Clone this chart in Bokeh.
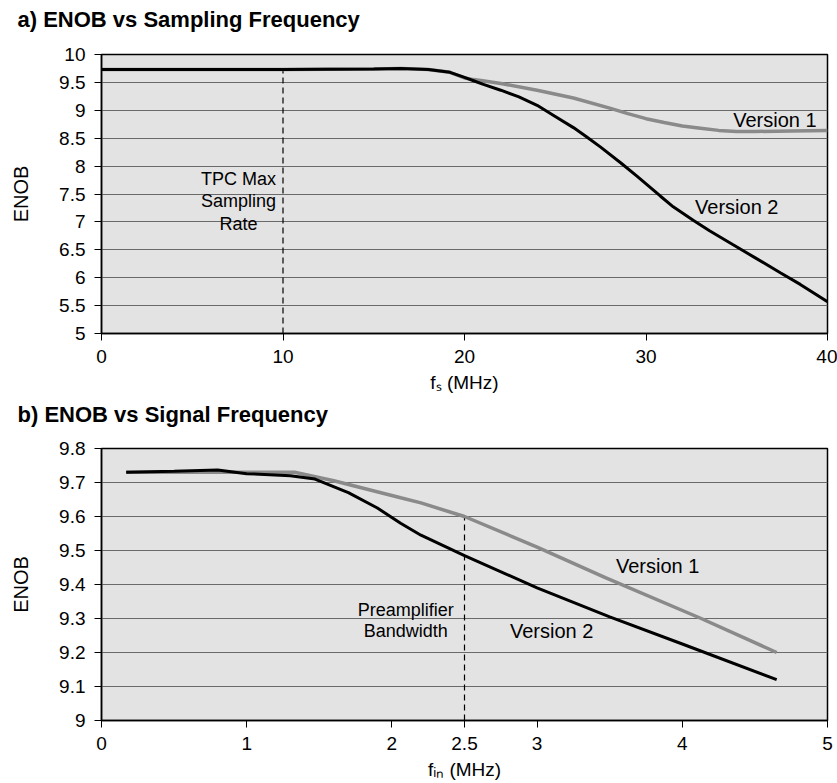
from bokeh.plotting import figure
from bokeh.layouts import column
from bokeh.models import Range1d, FixedTicker, NumeralTickFormatter, Label, Title
from bokeh.embed import file_html
from bokeh.resources import INLINE
import numpy as np

# ---------------- data: a) ENOB vs sampling frequency ----------------
fs_v1 = [0, 5, 10, 15, 16.5, 18, 19.2, 20, 20.5, 21, 22, 24, 26, 28, 29, 30, 31, 32, 33, 34, 35, 36, 38, 40]
enob_fs_v1 = [9.73, 9.73, 9.73, 9.74, 9.75, 9.73, 9.68, 9.58, 9.55, 9.53, 9.48, 9.36, 9.22, 9.04,
              8.94, 8.85, 8.78, 8.72, 8.68, 8.64, 8.62, 8.62, 8.63, 8.64]
fs_v2 = [0, 5, 10, 15, 16.5, 18, 19.2, 20, 20.5, 21, 22, 23, 24, 25, 26, 26.7, 27.5, 28.6, 29.5,
         30.8, 31.5, 32.6, 33.5, 34.8, 36, 37.4, 38.5, 40]
enob_fs_v2 = [9.73, 9.73, 9.73, 9.74, 9.75, 9.73, 9.68, 9.59, 9.53, 9.47, 9.36, 9.24, 9.09, 8.89, 8.69,
              8.53, 8.34, 8.06, 7.82, 7.46, 7.27, 7.03, 6.84, 6.59, 6.36, 6.09, 5.88, 5.57]
fs_ticks = [0, 10, 20, 30, 40]
enob_a_ticks = [5, 5.5, 6, 6.5, 7, 7.5, 8, 8.5, 9, 9.5, 10]
tpc_max_rate = 10

# ---------------- data: b) ENOB vs signal frequency ----------------
fin_v1 = [0.17, 0.5, 1.0, 1.33, 1.6, 1.83, 2.06, 2.2, 2.5, 3.0, 3.47, 4.13, 4.65]
enob_fin_v1 = [9.73, 9.73, 9.73, 9.73, 9.705, 9.68, 9.655, 9.64, 9.60, 9.51, 9.42, 9.30, 9.20]
fin_v2 = [0.17, 0.5, 0.8, 1.0, 1.3, 1.47, 1.7, 1.9, 2.06, 2.2, 2.5, 3.0, 3.5, 4.0, 4.65]
enob_fin_v2 = [9.73, 9.733, 9.737, 9.726, 9.72, 9.71, 9.67, 9.625, 9.58, 9.545, 9.485, 9.39, 9.305, 9.225, 9.12]
fin_ticks = [0, 1, 2, 2.5, 3, 4, 5]
enob_b_ticks = [9.0, 9.1, 9.2, 9.3, 9.4, 9.5, 9.6, 9.7, 9.8]
preamp_bw = 2.5

FONT = "Liberation Sans"
BG = "#e3e3e3"
GRID = "#6a6a6a"
GRAY = "#8a8a8a"


def make_fig(height, top, bottom, xr, yr, xt, yt, title, xlabel, title_gap):
    p = figure(width=837, height=height, x_range=Range1d(*xr), y_range=Range1d(*yr),
               output_backend="svg", toolbar_location=None, tools="", title=None,
               min_border_left=101, min_border_right=10,
               min_border_top=top, min_border_bottom=bottom)
    p.background_fill_color = BG
    p.border_fill_color = "white"
    p.outline_line_color = "black"
    p.outline_line_width = 1.5
    p.xgrid.visible = False
    p.ygrid.grid_line_color = GRID
    p.ygrid.grid_line_width = 1
    p.xaxis.ticker = FixedTicker(ticks=xt)
    p.yaxis.ticker = FixedTicker(ticks=yt)
    p.yaxis.formatter = NumeralTickFormatter(format="0.[0]")
    p.xaxis.formatter = NumeralTickFormatter(format="0.[0]")
    for ax in (p.xaxis[0], p.yaxis[0]):
        ax.axis_line_color = "black"
        ax.axis_line_width = 1.5
        ax.major_tick_line_color = "black"
        ax.major_tick_line_width = 1
        ax.major_tick_in = 0
        ax.major_tick_out = 7
        ax.minor_tick_line_color = None
        ax.major_label_text_font = FONT
        ax.major_label_text_font_size = "19px"
        ax.major_label_text_color = "black"
        ax.axis_label_text_font = FONT
        ax.axis_label_text_font_style = "normal"
        ax.axis_label_text_color = "black"
    p.yaxis.major_label_standoff = 9
    p.xaxis.major_label_standoff = 9
    p.yaxis.axis_label = "ENOB"
    p.yaxis.axis_label_text_font_size = "20px"
    p.yaxis.axis_label_standoff = 24
    p.xaxis.axis_label = xlabel
    p.xaxis.axis_label_text_font_size = "19px"
    p.xaxis.axis_label_standoff = 6
    # spacer between frame and the title (nearest to the frame)
    p.add_layout(Title(text=" ", text_font_size="1px", standoff=title_gap), "above")
    p.add_layout(Title(text=title, align="left", vertical_align="middle", offset=-84,
                       text_font=FONT, text_font_size="22px", text_font_style="bold",
                       text_color="black", standoff=0), "above")
    return p


def lab(p, x, y, text, size="19px", align="center", **kw):
    p.add_layout(Label(x=x, y=y, text=text, text_font=FONT, text_font_size=size,
                       text_align=align, text_baseline="middle", text_color="black", **kw))


# ---------------- chart a ----------------
pa = make_fig(398, 54, 65, (0, 40), (5, 10), fs_ticks, enob_a_ticks,
              "a) ENOB vs Sampling Frequency", "f\u209b (MHz)", 19)
ya_top = float(np.interp(tpc_max_rate, fs_v1, enob_fs_v1))
pa.segment(x0=[tpc_max_rate], y0=[enob_a_ticks[0]], x1=[tpc_max_rate], y1=[ya_top],
           line_color="black", line_width=1.2, line_dash="6 4")
pa.line(fs_v1, enob_fs_v1, line_color=GRAY, line_width=3.5)
pa.line(fs_v2, enob_fs_v2, line_color="black", line_width=3)
lab(pa, 39.4, 8.82, "Version 1", "20px", "right")
lab(pa, 35.0, 7.26, "Version 2", "20px")
lab(pa, 7.55, 7.76, "TPC Max", "18px")
lab(pa, 7.55, 7.37, "Sampling", "18px")
lab(pa, 7.55, 6.97, "Rate", "18px")

# ---------------- chart b ----------------
pb = make_fig(385, 50, 63, (0, 5), (9.0, 9.8), fin_ticks, enob_b_ticks,
              "b) ENOB vs Signal Frequency", "f\u1d62\u2099 (MHz)", 18)
pb.xaxis.major_label_overrides = {2.5: "2.5"}
yb_top = float(np.interp(preamp_bw, fin_v1, enob_fin_v1))
pb.segment(x0=[preamp_bw], y0=[enob_b_ticks[0]], x1=[preamp_bw], y1=[yb_top],
           line_color="black", line_width=1.2, line_dash="6 4")
pb.line(fin_v1, enob_fin_v1, line_color=GRAY, line_width=3.5)
pb.line(fin_v2, enob_fin_v2, line_color="black", line_width=3)
lab(pb, 3.83, 9.453, "Version 1", "20px")
lab(pb, 3.10, 9.262, "Version 2", "20px")
lab(pb, 2.095, 9.326, "Preamplifier", "18px")
lab(pb, 2.095, 9.262, "Bandwidth", "18px")

layout = column(pa, pb, spacing=0)
open("out.html", "w").write(file_html(layout, INLINE))
